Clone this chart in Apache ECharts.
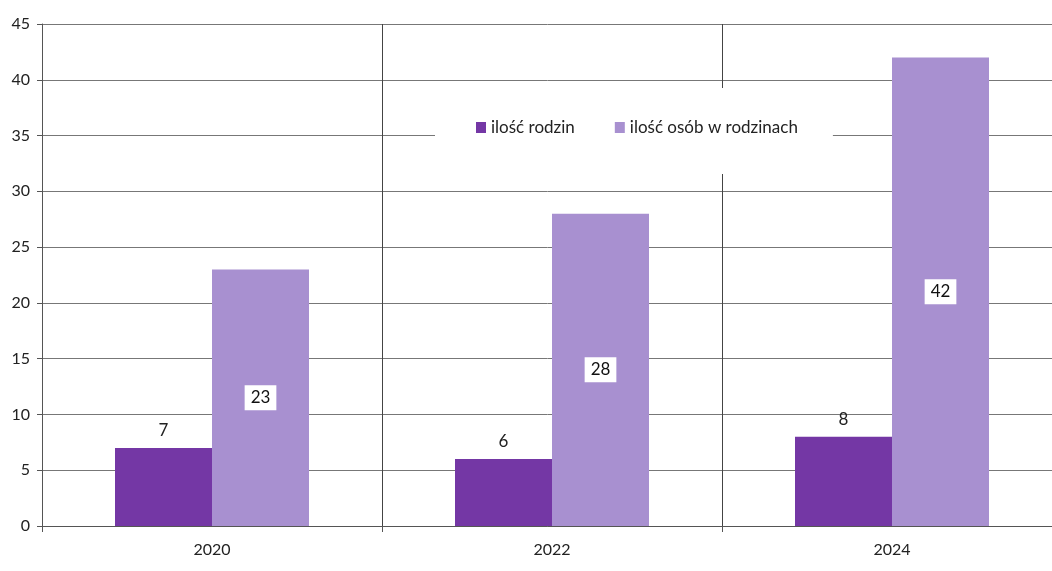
<!DOCTYPE html>
<html>
<head>
<meta charset="utf-8">
<script src="https://cdn.jsdelivr.net/npm/echarts@6/dist/echarts.min.js"></script>
<style>
  html, body { margin: 0; padding: 0; background: #fff; }
  #chart { width: 1052px; height: 571px; }
</style>
</head>
<body>
<div id="chart"></div>
<script>
const years = ['2020', '2022', '2024']
const families = [7, 6, 8]
const people = [23, 28, 42]
const seriesNames = ['ilość rodzin', 'ilość osób w rodzinach']

const chart = echarts.init(document.getElementById('chart'))
const font = 'Lato, "Open Sans", sans-serif'

chart.setOption({
  textStyle: { fontFamily: font },
  animation: false,
  grid: { left: 42, width: 1020, top: 24, bottom: 45, outerBoundsMode: 'none', containLabel: false },
  legend: {
    data: seriesNames,
    icon: 'rect',
    left: 435,
    top: 88,
    itemWidth: 10,
    itemHeight: 11,
    itemGap: 40,
    backgroundColor: '#fff',
    padding: [31, 35, 38, 41],
    textStyle: { fontFamily: font, fontSize: 17, color: '#222' }
  },
  xAxis: {
    type: 'category',
    data: years,
    axisLine: { lineStyle: { color: '#555' } },
    axisTick: { show: true, length: 6, lineStyle: { color: '#555' } },
    axisLabel: { color: '#222', fontSize: 16, margin: 16 },
    splitLine: { show: true, lineStyle: { color: '#444' } }
  },
  yAxis: {
    type: 'value',
    min: 0,
    max: 45,
    interval: 5,
    axisLine: { show: true, lineStyle: { color: '#555' } },
    axisTick: { show: true, length: 5, lineStyle: { color: '#555' } },
    axisLabel: { color: '#222', fontSize: 16, margin: 12 },
    splitLine: { lineStyle: { color: '#777' } }
  },
  series: [
    {
      name: seriesNames[0],
      type: 'bar',
      data: families,
      barWidth: 97,
      barGap: '0%',
      itemStyle: { color: '#7437a5' },
      label: {
        show: true,
        position: 'top',
        distance: 9,
        color: '#222',
        fontSize: 17,
        fontFamily: font
      }
    },
    {
      name: seriesNames[1],
      type: 'bar',
      data: people,
      barWidth: 97,
      barGap: '0%',
      itemStyle: { color: '#a890d0' },
      label: {
        show: true,
        position: 'inside',
        color: '#111',
        fontSize: 17,
        fontFamily: font,
        backgroundColor: '#fff',
        padding: [5, 6, 3, 6]
      }
    }
  ]
})

window.addEventListener('resize', () => chart.resize())
</script>
</body>
</html>
